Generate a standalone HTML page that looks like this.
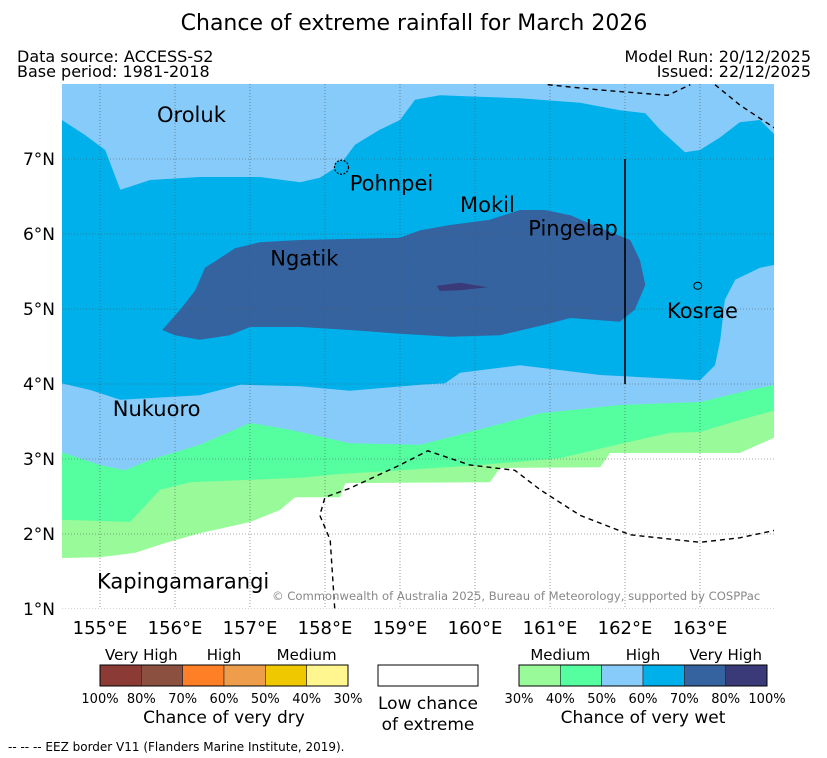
<!DOCTYPE html>
<html><head><meta charset="utf-8"><style>
body{margin:0;background:#fff;font-family:"DejaVu Sans","Liberation Sans",sans-serif}
svg{display:block}
text{font-family:"DejaVu Sans","Liberation Sans",sans-serif}
</style></head><body>
<svg id="chart" width="827" height="758" viewBox="0 0 827 758" xmlns="http://www.w3.org/2000/svg">
<text x="414" y="30" font-size="22" text-anchor="middle">Chance of extreme rainfall for March 2026</text>
<text x="17" y="62" font-size="16">Data source: ACCESS-S2</text>
<text x="17" y="77" font-size="16">Base period: 1981-2018</text>
<text x="811" y="62" font-size="16" text-anchor="end">Model Run: 20/12/2025</text>
<text x="811" y="77" font-size="16" text-anchor="end">Issued: 22/12/2025</text>
<defs><clipPath id="mc"><rect x="62" y="84" width="712" height="525"/></clipPath></defs>
<g id="map" clip-path="url(#mc)"></g>
<g id="axes"></g>
<g id="legend"></g>
<text x="8" y="751" font-size="12">-- -- -- EEZ border V11 (Flanders Marine Institute, 2019).</text>
</svg>
<script>
const lonTicks=[155,156,157,158,159,160,161,162,163];
const latTicks=[1,2,3,4,5,6,7];
const lightGreenEdge=[[154.49,1.68],[155,1.69],[155.47,1.75],[155.87,1.88],[156.33,2.01],[157,2.16],[157.4,2.32],[157.6,2.49],[158.2,2.49],[158.27,2.68],[160.2,2.69],[160.33,2.88],[161.67,2.89],[161.8,3.08],[163.53,3.08],[164,3.29]];
const greenEdge=[[154.49,2.19],[155.4,2.16],[155.8,2.59],[156.2,2.69],[157.67,2.75],[158.2,2.8],[159,2.85],[159.93,2.91],[161.13,3.01],[161.93,3.2],[162.6,3.35],[163,3.36],[163.53,3.52],[164,3.65]];
const lightBlueEdge=[[154.49,3.09],[155,2.92],[155.33,2.85],[155.67,2.99],[156.33,3.19],[157,3.48],[157.53,3.39],[158.33,3.21],[159.27,3.19],[159.93,3.36],[160.87,3.61],[161.93,3.72],[163,3.76],[163.67,3.92],[164,3.99]];
const blueLower=[[154.49,4.01],[154.87,3.92],[155.27,3.79],[156.33,3.85],[156.87,3.99],[157.67,3.97],[158.33,3.91],[159.27,3.99],[159.6,4.01],[159.8,4.15],[160.6,4.25],[161.67,4.12],[163,4.05],[163.2,4.25],[163.27,4.59],[163.33,5.12],[163.47,5.39],[163.8,5.55],[164,5.59]];
const blueUpper=[[164,7.32],[163.8,7.52],[163.53,7.49],[163.27,7.29],[163,7.12],[162.8,7.09],[162.47,7.39],[162.27,7.61],[161.93,7.65],[161.4,7.75],[160.6,7.81],[159.53,7.85],[159.2,7.79],[159,7.52],[158.73,7.39],[158.4,7.19],[158.2,6.92],[157.93,6.75],[157.67,6.69],[157.13,6.76],[156.33,6.76],[155.67,6.72],[155.27,6.59],[155.07,7.12],[154.8,7.32],[154.49,7.52]];
const darkBlue=[[155.83,4.72],[156.07,4.99],[156.27,5.25],[156.4,5.55],[156.8,5.81],[157.13,5.89],[157.67,5.92],[159,5.95],[159.27,6.05],[159.67,6.12],[160.2,6.19],[160.6,6.32],[160.93,6.32],[161.27,6.25],[161.67,6.08],[162.07,5.92],[162.2,5.65],[162.27,5.32],[162.13,4.99],[161.93,4.83],[161.27,4.88],[160.93,4.79],[160.33,4.65],[159.67,4.63],[159,4.67],[158.33,4.72],[157.67,4.76],[157,4.76],[156.73,4.65],[156.33,4.59],[156,4.65]];
const darkest=[[159.49,5.31],[159.8,5.35],[160.17,5.29],[159.8,5.25],[159.53,5.24]];
const eezA=[[158.13,1.01],[158.07,1.92],[157.93,2.25],[158,2.49],[158.33,2.61],[159,2.92],[159.37,3.11],[159.93,2.92],[160.53,2.85],[160.87,2.59],[161.4,2.25],[162.07,1.99],[163,1.89],[163.53,1.95],[164,2.05]];
const eezB=[[160.97,7.99],[161.67,7.92],[162.57,7.85],[162.87,7.99]];
const eezC=[[163.2,7.99],[163.53,7.72],[164,7.41]];
const places=[["Oroluk",155.76,7.6],["Pohnpei",158.33,6.69],["Mokil",159.8,6.4],["Pingelap",160.71,6.09],["Ngatik",157.27,5.69],["Kosrae",162.56,4.99],["Nukuoro",155.17,3.68],["Kapingamarangi",154.96,1.38]];
const dryColors=["#8b3a35","#8b5040","#ff7f27","#ee9e4b","#efc800","#fff68f"];
const dryLabels=["100%","80%","70%","60%","50%","40%","30%"];
const wetColors=["#98fa98","#55ffa0","#87cbfa","#00b0ea","#3563a0","#3a3a78"];
const wetLabels=["30%","40%","50%","60%","70%","80%","100%"];

const NS="http://www.w3.org/2000/svg";
const X=lon=>100+(lon-155)*75, Y=lat=>159-(lat-7)*75;
function mk(tag,attrs,parent,txt){const e=document.createElementNS(NS,tag);for(const k in attrs)e.setAttribute(k,attrs[k]);if(txt!==undefined)e.textContent=txt;parent.appendChild(e);return e;}
const pts=a=>a.map(p=>X(p[0]).toFixed(1)+","+Y(p[1]).toFixed(1)).join(" ");
const map=document.getElementById('map');
function band(edge,color,name){
  const a=[[154.4,edge[0][1]],...edge,[164.1,edge[edge.length-1][1]],[164.1,8.1],[154.4,8.1]];
  const e=mk('polygon',{points:pts(a),fill:color},map);
  
  
}
band(lightGreenEdge,"#98fa98","band-30-40");
band(greenEdge,"#55ffa0","band-40-50");
band(lightBlueEdge,"#87cbfa","band-50-60");
let b=mk('polygon',{points:pts([[154.4,4.01],...blueLower,[164.1,5.59],[164.1,7.32],...blueUpper,[154.4,7.52]]),fill:"#00b0ea"},map);


b=mk('polygon',{points:pts(darkBlue),fill:"#3563a0"},map);


b=mk('polygon',{points:pts(darkest),fill:"#3a3a78"},map);


lonTicks.forEach(l=>{const g=mk('line',{x1:X(l),x2:X(l),y1:84,y2:609,stroke:"#555","stroke-width":0.6,"stroke-dasharray":"1,2"},map);

});
latTicks.forEach(l=>{const g=mk('line',{x1:62,x2:774,y1:Y(l),y2:Y(l),stroke:"#555","stroke-width":0.6,"stroke-dasharray":"1,2"},map);

});
[eezA,eezB,eezC].forEach(a=>{const e=mk('polyline',{points:pts(a),fill:"none",stroke:"#000","stroke-width":1.4,"stroke-dasharray":"5,4"},map);

});
let v=mk('line',{x1:X(162),x2:X(162),y1:Y(7),y2:Y(4),stroke:"#000","stroke-width":1.6},map);


let isl=mk('ellipse',{cx:X(158.22),cy:Y(6.89),rx:7,ry:7,fill:"#00b0ea",stroke:"#000","stroke-width":1.2,"stroke-dasharray":"2,1.5"},map);


isl=mk('ellipse',{cx:X(162.97),cy:Y(5.31),rx:4,ry:3.5,fill:"none",stroke:"#000","stroke-width":1},map);


places.forEach(p=>{const t=mk('text',{x:X(p[1]),y:Y(p[2])+8,"font-size":21},map,p[0]);

});
let c=mk('text',{x:272,y:600,"font-size":11.6,fill:"#888"},map,"© Commonwealth of Australia 2025, Bureau of Meteorology, supported by COSPPac");


const axes=document.getElementById('axes');
lonTicks.forEach(l=>{const t=mk('text',{x:X(l),y:634,"font-size":18,"text-anchor":"middle"},axes,l+"°E");

});
latTicks.forEach(l=>{const t=mk('text',{x:55,y:Y(l)+6,"font-size":17,"text-anchor":"end"},axes,l+"°N");

});
const lg=document.getElementById('legend');
function bar(x0,colors,labels,heads,title,nm){
  const w=248/colors.length;
  colors.forEach((col,i)=>{const r=mk('rect',{x:x0+i*w,y:665,width:w,height:21,fill:col,stroke:"#222","stroke-width":0.6},lg);
  
  });
  mk('rect',{x:x0,y:665,width:248,height:21,fill:"none",stroke:"#000","stroke-width":1},lg);
  labels.forEach((t,i)=>{const e=mk('text',{x:x0+i*w,y:703,"font-size":13,"text-anchor":"middle"},lg,t);
  
  });
  heads.forEach(h=>{const e=mk('text',{x:x0+h[1]*w,y:660,"font-size":15,"text-anchor":"middle"},lg,h[0]);
  
  });
  const e=mk('text',{x:x0+124,y:723,"font-size":17,"text-anchor":"middle"},lg,title);
  
  
}
bar(100,dryColors,dryLabels,[["Very High",1],["High",3],["Medium",5]],"Chance of very dry","dry-legend");
bar(519,wetColors,wetLabels,[["Medium",1],["High",3],["Very High",5]],"Chance of very wet","wet-legend");
let lr=mk('rect',{x:378,y:665,width:100,height:21,fill:"#fff",stroke:"#000","stroke-width":1},lg);


let lt=mk('text',{x:428,y:709,"font-size":17,"text-anchor":"middle"},lg,"Low chance");


lt=mk('text',{x:428,y:730,"font-size":17,"text-anchor":"middle"},lg,"of extreme");


</script>
</body></html>
